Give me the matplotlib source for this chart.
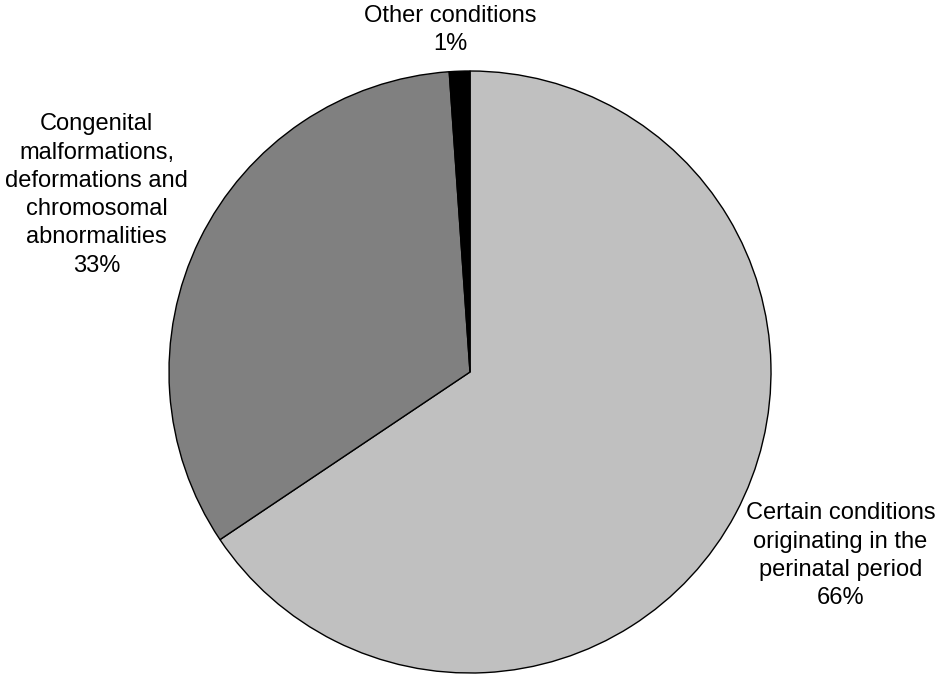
import numpy as np
import matplotlib.pyplot as plt

plt.rcParams["font.family"] = ["Liberation Sans", "DejaVu Sans"]

# data
labels = [
    "Certain conditions\noriginating in the\nperinatal period",
    "Congenital\nmalformations,\ndeformations and\nchromosomal\nabnormalities",
    "Other conditions",
]
shares = [65.6, 33.3, 1.1]
colors = ["#C0C0C0", "#808080", "#000000"]

fig = plt.figure(figsize=(9.4, 6.77), dpi=100)
W, H = 940, 677
cx, cy, r = 470, 372, 301
ax = fig.add_axes([(cx - r) / W, (H - cy - r) / H, 2 * r / W, 2 * r / H])

wedges, _ = ax.pie(
    shares,
    colors=colors,
    startangle=90,
    counterclock=False,
    radius=1,
    wedgeprops=dict(edgecolor="black", linewidth=1),
)
ax.set_xlim(-1, 1)
ax.set_ylim(-1, 1)
ax.set_aspect("equal")
ax.axis("off")

# label placement: distance from centre (radii) and small angle nudge (deg)
dist = [1.374, 1.373, 1.138]
nudge = [1.7, 0.75, 1.36]
total = sum(shares)
for w, lab, val, d, dn in zip(wedges, labels, shares, dist, nudge):
    mid = np.deg2rad((w.theta1 + w.theta2) / 2 + dn)
    x, y = d * np.cos(mid), d * np.sin(mid)
    ax.text(
        x, y, f"{lab}\n{val / total * 100:.0f}%",
        ha="center", va="center", fontsize=17, linespacing=1.37,
        clip_on=False,
    )

fig.savefig("out.png", dpi=100)
